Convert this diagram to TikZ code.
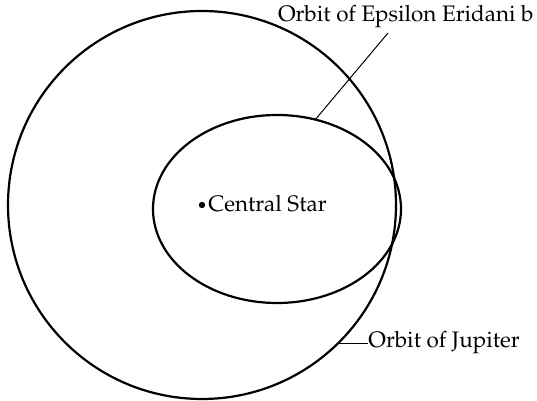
\documentclass[tikz,border=0pt]{standalone}
\usepackage[T1]{fontenc}
\usepackage{mathpazo}
\usepackage{tikz}
\usetikzlibrary{calc}

\begin{document}
\begin{tikzpicture}[x=0.5pt,y=0.5pt,
  orbit/.style={line width=1.1pt},
  leader/.style={line width=0.5pt},
  lbl/.style={font=\fontsize{11.2}{13}\selectfont,inner sep=0pt}]
  \useasboundingbox (0,0) rectangle (537,401);
  % Orbits
  \draw[orbit] (202,196) circle (194);
  \draw[orbit] (277,192) ellipse (124 and 94);
  % Central star
  \fill (202,196) circle (1.6pt) coordinate (star);
  \node[lbl,anchor=base west] (starlbl) at (208,189) {Central Star};
  % Labels of the two orbits
  \node[lbl,anchor=base east] (eps) at (534,379) {Orbit of Epsilon Eridani b};
  \node[lbl,anchor=base west] (jup) at (368,53) {Orbit of Jupiter};
  \coordinate (epstouch) at ($(277,192)+(72:124 and 94)$);
  \coordinate (epsend) at (388,368);
  \coordinate (juptouch) at ($(202,196)+(-45.6:194)$);
  \draw[leader] (epstouch) -- (epsend);
  \draw[leader] (juptouch) -- (juptouch -| jup.west);
\end{tikzpicture}
\end{document}
